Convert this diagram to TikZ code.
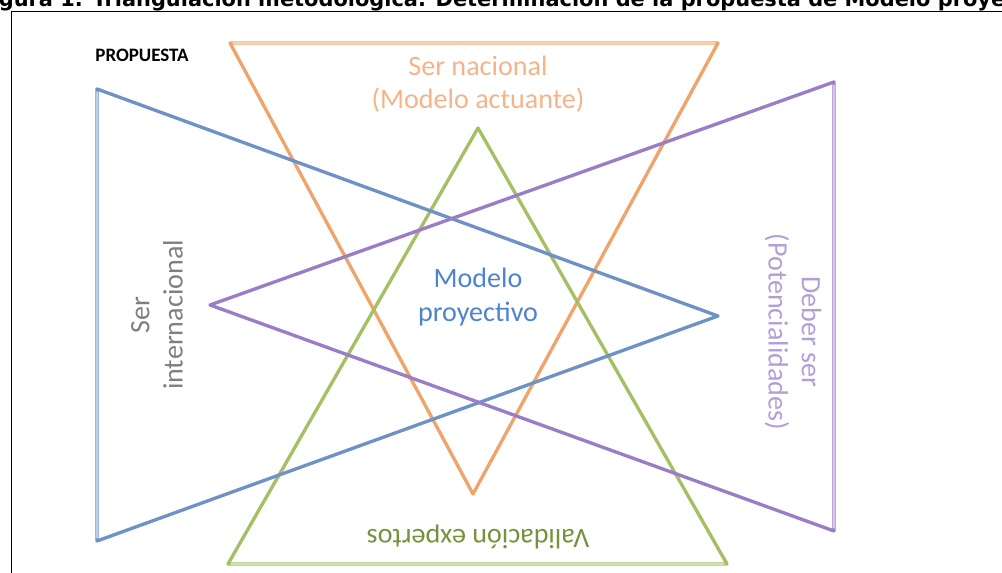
\documentclass[tikz,border=0pt]{standalone}
\usepackage{fontspec}
\setmainfont{Carlito}
\newfontfamily\titlefont{DejaVu Sans}
\usepackage{xcolor}
\usetikzlibrary{calc}

\definecolor{naranja}{HTML}{EFA46C}
\definecolor{naranjaclaro}{HTML}{F9D3AE}
\definecolor{naranjatexto}{HTML}{F5B487}
\definecolor{verde}{HTML}{A3C064}
\definecolor{verdeclaro}{HTML}{D2E2AE}
\definecolor{verdetexto}{HTML}{76923C}
\definecolor{azul}{HTML}{6E92C6}
\definecolor{azulclaro}{HTML}{B7D0EE}
\definecolor{azultexto}{HTML}{4F84CC}
\definecolor{morado}{HTML}{9B7CC6}
\definecolor{moradoclaro}{HTML}{D7C2EE}
\definecolor{moradotexto}{HTML}{B19FD6}
\definecolor{gristexto}{HTML}{7F7F7F}

\tikzset{
	lado/.style={line width=1.9pt, line join=round, line cap=round},
	brillo/.style={line width=0.8pt, line cap=round},
	texto/.style={align=center, inner sep=0pt, font=\fontsize{16}{19}\selectfont}
}

\begin{document}
\begin{tikzpicture}[x=0.02cm,y=-0.02cm]
		\clip (0,0) rectangle (1002,573);

		%Titulo y marco
		\node [anchor=base west, inner sep=0pt] at (-23,7) (titulo) [] {\titlefont\bfseries\fontsize{11.9}{14}\selectfont Figura 1. Triangulación metodológica. Determinación de la propuesta de Modelo proyectivo};
		\draw [line width=1.1pt] (11.5,580) -- (11.5,11.5) -- (1010,11.5);
		\node at (142,55) (propuesta) [inner sep=0pt, font=\bfseries\fontsize{10.8}{12}\selectfont] {PROPUESTA};

		% Ser nacional
		\coordinate (n1) at (230,43);
		\coordinate (n2) at (718,43);
		\coordinate (n3) at (473,494);
		\draw [lado, naranja] (n1) -- (n2) -- (n3) -- cycle;
		\draw [brillo, naranjaclaro] ($(n1)+(3,0)$) -- ($(n2)+(-3,0)$);

		% Validacion expertos
		\coordinate (v1) at (478,128);
		\coordinate (v2) at (727,564);
		\coordinate (v3) at (228,564);
		\draw [lado, verde] (v1) -- (v2) -- (v3) -- cycle;
		\draw [brillo, verdeclaro] ($(v2)+(-3,0)$) -- ($(v3)+(3,0)$);

		% Ser internacional
		\coordinate (i1) at (97,89);
		\coordinate (i2) at (718,316);
		\coordinate (i3) at (97,541);
		\draw [lado, azul] (i1) -- (i2) -- (i3) -- cycle;
		\draw [brillo, azulclaro] ($(i1)+(0,3)$) -- ($(i3)+(0,-3)$);

		% Deber ser
		\coordinate (d1) at (834,82);
		\coordinate (d2) at (834,531);
		\coordinate (d3) at (210,305);
		\draw [lado, morado] (d1) -- (d2) -- (d3) -- cycle;
		\draw [brillo, moradoclaro] ($(d1)+(0,3)$) -- ($(d2)+(0,-3)$);

		% Textos
		\node at (478,84) (nacional) [texto, text=naranjatexto] {Ser nacional\\(Modelo actuante)};
		\node at (478,297) (modelo) [texto, text=azultexto] {Modelo\\proyectivo};
		\node at (157,315) (internacional) [texto, text=gristexto, rotate=90] {Ser\\internacional};
		\node at (793,332) (deber) [texto, text=moradotexto, rotate=-90] {Deber ser\\(Potencialidades)};
		\node at (478,537) (validacion) [texto, text=verdetexto, rotate=180] {Validación expertos};

	\end{tikzpicture}
\end{document}
